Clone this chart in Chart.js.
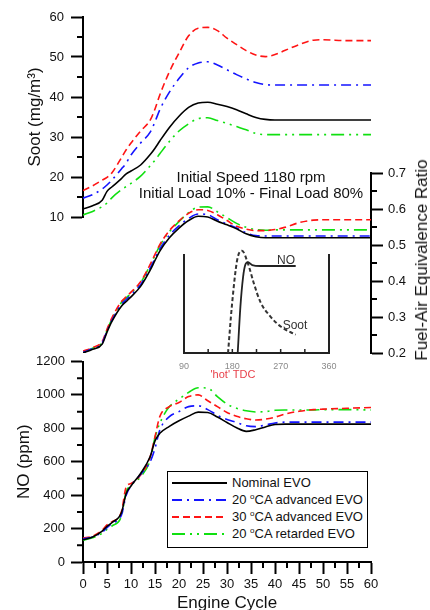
<!DOCTYPE html>
<html>
<head>
<meta charset="utf-8">
<script src="https://cdn.jsdelivr.net/npm/chart.js@4.4.0/dist/chart.umd.min.js"></script>
<style>
  body { margin: 0; background: #fff; }
  #wrap { position: relative; width: 430px; height: 610px; overflow: hidden;
          font-family: "Liberation Sans", Arial, Helvetica, sans-serif; color: #111; }
  #wrap canvas { position: absolute; left: 0; top: 0; }
  .txt { position: absolute; white-space: nowrap; }
  #note { left: 251px; top: 169px; transform: translateX(-50%); font-size: 15px; line-height: 16px; text-align: center; }
  #phiTitle { left: 422px; top: 260px; transform: translate(-50%, -50%) rotate(-90deg); font-size: 17px; }
  .inset { font-size: 12px; color: #333; transform: translate(-50%, -50%); }
  #hot { left: 233px; top: 374px; transform: translate(-50%, -50%); font-size: 11px; color: #e8404a; }
  #legend { position: absolute; left: 167px; top: 471px; width: 199px; height: 73px; border: 1px solid #000;
            background: #fff; padding-top: 2px; box-sizing: content-box; }
  #legend .row { height: 17px; display: flex; align-items: center; font-size: 13px; }
  #legend svg { margin-left: 4px; margin-right: 5px; }
  #legend sup { font-size: 8px; vertical-align: 5px; }
</style>
</head>
<body>
<div id="wrap">
  <canvas id="sootChart" width="430" height="610"></canvas>
  <canvas id="phiChart" width="430" height="610"></canvas>
  <canvas id="noChart" width="430" height="610"></canvas>
  <canvas id="insetChart" width="430" height="610"></canvas>
  <div class="txt" id="note">Initial Speed 1180 rpm<br>Initial Load 10% - Final Load 80%</div>
  <div class="txt" id="phiTitle">Fuel-Air Equivalence Ratio</div>
  <div class="txt inset" style="left:286px;top:260px">NO</div>
  <div class="txt inset" style="left:295px;top:325px">Soot</div>
  <div class="txt" id="hot">'hot' TDC</div>
  <div id="legend"></div>
</div>
<script>
// Engine cycles where values were read
const cycles = [0, 2, 4, 5, 6, 8, 9, 10, 12, 14, 15, 16, 18, 20, 22, 24, 26, 28, 30, 32, 34, 36, 38, 40, 42, 45, 48, 50, 55, 60];

const seriesNames = ["Nominal EVO", "20 ºCA advanced EVO", "30 ºCA advanced EVO", "20 ºCA retarded EVO"];
const seriesColors = ["#000000", "#1414ff", "#ff1414", "#10e010"];
const seriesDashes = [[], [10, 5, 2, 5], [7, 4], [13, 5, 2, 5, 2, 5]];

// Soot (mg/m3)
const sootNominal = [12.0, 12.8, 14.2, 16.4, 17.5, 19.6, 20.8, 21.5, 23.0, 25.6, 27.2, 29.0, 32.4, 35.2, 37.4, 38.5, 38.7, 38.2, 37.6, 36.8, 35.8, 34.9, 34.4, 34.25, 34.25, 34.25, 34.25, 34.25, 34.25, 34.25];
const sootAdv20 = [14.7, 15.6, 17.0, 18.0, 19.2, 22.0, 23.5, 25.5, 28.5, 31.2, 33.8, 36.8, 41.2, 44.6, 47.3, 48.5, 48.8, 48.0, 46.8, 45.6, 44.5, 43.6, 43.1, 43.0, 43.0, 43.0, 43.0, 43.0, 43.0, 43.0];
const sootAdv30 = [16.6, 17.8, 19.2, 19.9, 21.0, 24.8, 26.8, 28.5, 31.5, 34.2, 37.0, 40.5, 46.3, 51.0, 55.3, 57.2, 57.4, 56.6, 54.7, 53.1, 51.6, 50.5, 50.1, 50.6, 51.6, 53.1, 54.2, 54.3, 54.1, 54.1];
const sootRet20 = [10.5, 11.4, 12.6, 13.5, 14.8, 16.8, 17.6, 18.4, 20.2, 22.8, 24.2, 25.8, 28.9, 31.5, 33.3, 34.6, 34.8, 34.1, 33.4, 32.6, 31.8, 30.9, 30.6, 30.6, 30.6, 30.6, 30.6, 30.6, 30.6, 30.6];

// Fuel-air equivalence ratio
const phiNominal = [0.200, 0.210, 0.225, 0.258, 0.287, 0.330, 0.343, 0.356, 0.385, 0.430, 0.457, 0.483, 0.520, 0.547, 0.568, 0.580, 0.578, 0.566, 0.556, 0.545, 0.531, 0.523, 0.520, 0.520, 0.520, 0.520, 0.520, 0.520, 0.520, 0.520];
const phiAdv20 = [0.202, 0.212, 0.228, 0.261, 0.290, 0.335, 0.348, 0.361, 0.390, 0.436, 0.463, 0.489, 0.527, 0.553, 0.574, 0.586, 0.584, 0.570, 0.558, 0.547, 0.534, 0.526, 0.525, 0.525, 0.525, 0.525, 0.525, 0.525, 0.525, 0.525];
const phiAdv30 = [0.205, 0.215, 0.232, 0.266, 0.297, 0.343, 0.356, 0.369, 0.398, 0.446, 0.474, 0.501, 0.540, 0.567, 0.588, 0.598, 0.596, 0.584, 0.568, 0.552, 0.544, 0.540, 0.540, 0.543, 0.549, 0.562, 0.569, 0.570, 0.570, 0.570];
const phiRet20 = [0.203, 0.213, 0.230, 0.263, 0.294, 0.340, 0.353, 0.366, 0.395, 0.444, 0.471, 0.498, 0.537, 0.565, 0.590, 0.605, 0.606, 0.592, 0.576, 0.560, 0.549, 0.543, 0.541, 0.542, 0.542, 0.542, 0.542, 0.542, 0.542, 0.542];

// NO (ppm)
const noNominal = [133, 150, 185, 213, 235, 295, 410, 455, 530, 631, 725, 770, 812, 845, 873, 897, 895, 868, 835, 803, 782, 792, 808, 823, 825, 825, 825, 825, 825, 825];
const noAdv20 = [138, 150, 178, 205, 230, 280, 400, 455, 525, 600, 680, 790, 870, 900, 930, 935, 912, 878, 853, 835, 815, 810, 820, 832, 837, 837, 837, 837, 837, 837];
const noAdv30 = [143, 155, 190, 222, 240, 300, 450, 470, 520, 630, 750, 870, 930, 955, 990, 1000, 965, 930, 895, 872, 857, 850, 855, 867, 885, 902, 912, 915, 920, 925];
const noRet20 = [130, 145, 172, 195, 215, 275, 420, 460, 510, 610, 745, 830, 930, 975, 1015, 1043, 1040, 990, 945, 920, 905, 898, 900, 908, 910, 910, 910, 912, 912, 910];

// inset: in-cylinder NO and soot vs crank angle (normalised)
const insetNoAngle = [190, 195, 200, 204, 209, 217, 232, 298];
const insetNo = [0, 0.45, 0.74, 0.857, 0.886, 0.857, 0.848, 0.848];
const insetSootAngle = [172, 179, 189, 198, 209, 220, 232, 251, 270, 298];
const insetSoot = [0, 0.45, 0.906, 0.996, 0.874, 0.68, 0.50, 0.355, 0.258, 0.178];

Chart.defaults.font.family = '"Liberation Sans", Arial, Helvetica, sans-serif';
Chart.defaults.color = "#111";
Chart.defaults.animation = false;
Chart.defaults.responsive = false;
Chart.defaults.events = [];
Chart.defaults.plugins.legend.display = false;
Chart.defaults.plugins.tooltip.enabled = false;
Chart.defaults.elements.point.radius = 0;

// short tick marks between the labelled ones
const minorTicks = {
  id: "minorTicks",
  afterDraw(chart, args, opts) {
    const ctx = chart.ctx;
    (opts.list || []).forEach((t) => {
      const scale = chart.scales[t.axis];
      ctx.save();
      ctx.strokeStyle = t.color || "#000";
      ctx.lineWidth = t.width || 2;
      ctx.beginPath();
      for (let v = t.from; v <= t.to + 1e-9; v += t.step) {
        const p = scale.getPixelForValue(v);
        if (scale.isHorizontal()) {
          ctx.moveTo(p, scale.top);
          ctx.lineTo(p, scale.top + t.len);
        } else if (scale.position === "left") {
          ctx.moveTo(scale.right, p);
          ctx.lineTo(scale.right - t.len, p);
        } else {
          ctx.moveTo(scale.left, p);
          ctx.lineTo(scale.left + t.len, p);
        }
      }
      ctx.stroke();
      ctx.restore();
    });
  },
};
Chart.register(minorTicks);

function pts(xs, ys) {
  return xs.map((x, i) => ({ x: x, y: ys[i] }));
}

function seriesSets(values) {
  return values.map((v, i) => ({
    label: seriesNames[i],
    data: pts(cycles, v),
    borderColor: seriesColors[i],
    borderDash: seriesDashes[i],
    borderWidth: 1.6,
    cubicInterpolationMode: "monotone",
    fill: false,
  }));
}

const plain = (v) => String(Math.round(v * 100) / 100);
const axisLine = { color: "#000", width: 2 };
const majorGrid = { drawOnChartArea: false, tickLength: 12, tickWidth: 2, tickColor: "#000" };
const cycleAxis = { type: "linear", min: 0, max: 60, display: false };

// Soot panel
new Chart(document.getElementById("sootChart"), {
  type: "line",
  data: { datasets: seriesSets([sootNominal, sootAdv20, sootAdv30, sootRet20]) },
  options: {
    layout: { padding: { left: 23, top: 17, right: 59, bottom: 393 } },
    scales: {
      x: cycleAxis,
      y: {
        min: 10,
        max: 60,
        ticks: { stepSize: 10, padding: 7, font: { size: 13 }, callback: plain },
        grid: majorGrid,
        border: axisLine,
        title: { display: true, text: "Soot (mg/m³)", font: { size: 17 }, padding: { top: 2, bottom: 0 } },
        afterFit: (s) => { s.width = 60; },
      },
    },
    plugins: { minorTicks: { list: [{ axis: "y", from: 15, to: 55, step: 10, len: 6 }] } },
  },
});

// Equivalence ratio panel (right axis)
new Chart(document.getElementById("phiChart"), {
  type: "line",
  data: { datasets: seriesSets([phiNominal, phiAdv20, phiAdv30, phiRet20]) },
  options: {
    layout: { padding: { left: 83, top: 173, right: 9, bottom: 257 } },
    scales: {
      x: cycleAxis,
      y: {
        position: "right",
        min: 0.2,
        max: 0.7,
        ticks: { stepSize: 0.1, padding: 5, font: { size: 13 }, callback: plain },
        grid: majorGrid,
        border: axisLine,
        afterFit: (s) => { s.width = 50; },
      },
    },
    plugins: { minorTicks: { list: [{ axis: "y", from: 0.25, to: 0.65, step: 0.1, len: 6 }] } },
  },
});

// NO panel with the engine cycle axis
new Chart(document.getElementById("noChart"), {
  type: "line",
  data: { datasets: seriesSets([noNominal, noAdv20, noAdv30, noRet20]) },
  options: {
    layout: { padding: { left: 13, top: 361.5, right: 59, bottom: 0 } },
    scales: {
      x: {
        type: "linear",
        min: 0,
        max: 60,
        ticks: { stepSize: 5, padding: 3, font: { size: 13 }, maxRotation: 0, autoSkip: false, callback: plain },
        grid: majorGrid,
        border: axisLine,
        title: { display: true, text: "Engine Cycle", font: { size: 17, lineHeight: 1 }, padding: { top: 0, bottom: -2 } },
        afterFit: (s) => { s.height = 48; },
      },
      y: {
        min: 0,
        max: 1200,
        ticks: { stepSize: 200, padding: 6, font: { size: 13 }, callback: plain },
        grid: majorGrid,
        border: axisLine,
        title: { display: true, text: "NO (ppm)", font: { size: 17 }, padding: { top: 1, bottom: 0 } },
        afterFit: (s) => { s.width = 70; },
      },
    },
    plugins: {
      minorTicks: {
        list: [
          { axis: "x", from: 2.5, to: 57.5, step: 5, len: 6 },
          { axis: "y", from: 100, to: 1100, step: 200, len: 6 },
        ],
      },
    },
  },
});

// inset
const insetEdge = { color: "#222", width: 2 };
const noGrid = { drawOnChartArea: false, drawTicks: false };
new Chart(document.getElementById("insetChart"), {
  type: "line",
  data: {
    datasets: [
      { data: pts(insetNoAngle, insetNo), borderColor: "#222", borderWidth: 1.8, cubicInterpolationMode: "monotone", clip: false },
      { data: pts(insetSootAngle, insetSoot), borderColor: "#333", borderWidth: 2, borderDash: [4, 2.5], cubicInterpolationMode: "monotone", clip: false },
    ],
  },
  options: {
    layout: { padding: { left: 184, top: 255, right: 101, bottom: 237 } },
    scales: {
      x: {
        type: "linear",
        min: 90,
        max: 360,
        ticks: {
          stepSize: 45, padding: 8, color: "#8a8a8a", font: { size: 9 }, autoSkip: false, maxRotation: 0,
          callback: (v) => (v % 90 === 0 ? String(v) : ""),
        },
        grid: noGrid,
        border: insetEdge,
        afterFit: (s) => { s.height = 20; },
      },
      y: { min: 0, max: 0.955, ticks: { display: false }, grid: noGrid, border: insetEdge, afterFit: (s) => { s.width = 0; } },
      y2: { position: "right", min: 0, max: 0.955, ticks: { display: false }, grid: noGrid, border: insetEdge, afterFit: (s) => { s.width = 0; } },
    },
    plugins: { minorTicks: { list: [{ axis: "x", from: 90, to: 360, step: 45, len: -4, width: 1.5, color: "#222" }] } },
  },
});

// legend
const legend = document.getElementById("legend");
seriesNames.forEach((name, i) => {
  const row = document.createElement("div");
  row.className = "row";
  const dash = seriesDashes[i].length ? ` stroke-dasharray="${seriesDashes[i].join(" ")}"` : "";
  row.innerHTML =
    `<svg width="55" height="6"><line x1="0" y1="3" x2="55" y2="3" stroke="${seriesColors[i]}" stroke-width="1.8"${dash}/></svg>` +
    `<span>${name.replace("º", "<sup>o</sup>")}</span>`;
  legend.appendChild(row);
});
</script>
</body>
</html>
